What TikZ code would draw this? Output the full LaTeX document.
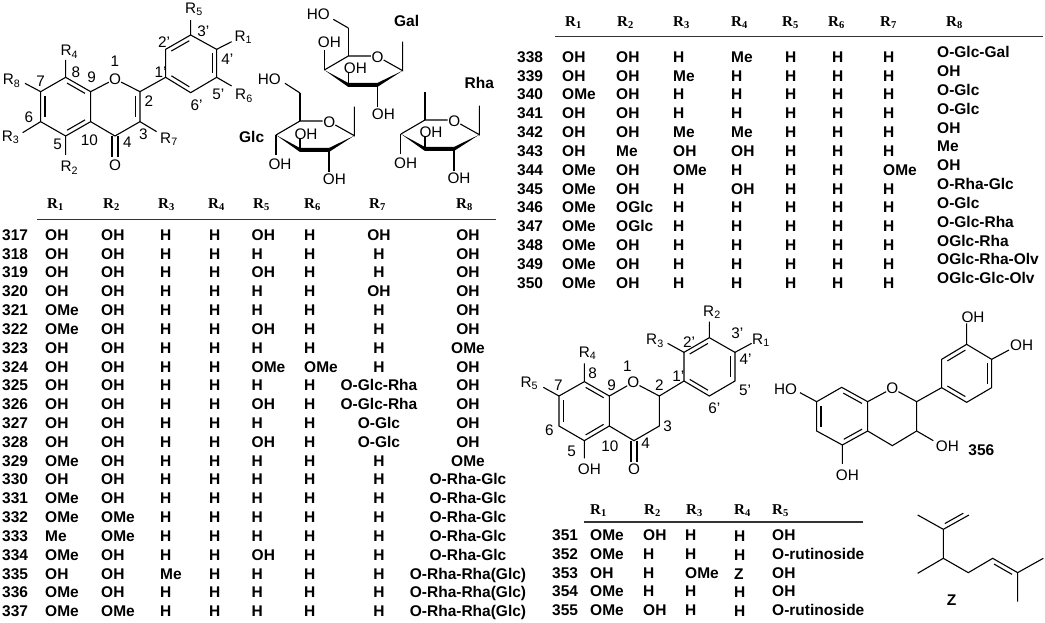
\documentclass[tikz,border=0pt]{standalone}
\usepackage{fontspec}
\setmainfont{Liberation Sans}
\newfontfamily\hdfont{Liberation Serif}
\usetikzlibrary{calc}
\tikzset{
  bond/.style={line width=1.1pt},
  atom/.style={inner sep=0pt,font=\fontsize{15.3}{16}\selectfont},
  tag/.style={inner sep=0pt,font=\fontsize{15.5}{16}\selectfont\bfseries},
  cell/.style={inner sep=0pt,anchor=base west,font=\fontsize{15.5}{16}\selectfont\bfseries},
  cellc/.style={inner sep=0pt,anchor=base,font=\fontsize{15.5}{16}\selectfont\bfseries},
  hd/.style={inner sep=0pt,anchor=base west,font=\fontsize{15}{16}\selectfont\hdfont\bfseries},
  rule/.style={line width=1.1pt,draw=black!80},
  zm/.style 2 args={shift={(#1pt,-#2pt)},x=.3333pt,y=-.3333pt},
}
% inner line of a ring double bond, #3 is the side
\newcommand{\inner}[3]{\draw[bond] ($(#1)!.14!(#2)!4.3pt!#3:(#2)$) -- ($(#2)!.14!(#1)!4.3pt!-#3:(#1)$);}
% two lines either side of the axis
\newcommand{\twin}[2]{\draw[bond] ($(#1)!3pt!90:(#2)$) -- ($(#2)!3pt!-90:(#1)$) ($(#1)!3pt!-90:(#2)$) -- ($(#2)!3pt!90:(#1)$);}
% sugar ring, #1 names the corners
\newcommand{\sugarring}[1]{
  \coordinate (#1c5) at (0,0);
  \coordinate (#1ox) at (88,2);
  \coordinate (#1c1) at (163,44);
  \coordinate (#1c2) at (87,87);
  \coordinate (#1c3) at (0,87);
  \coordinate (#1c4) at (-72,42);
  \coordinate (#1me) at (163,-43);
  \coordinate (#1up) at (0,-84);
  \coordinate (#1a3) at (0,52);
  \coordinate (#1a2) at (87,152);
  \draw[bond] (#1c4) -- (#1c5) -- (68,0);
  \draw[bond] (106,12) -- (#1c1) -- (#1me);
  \draw[bond] (#1c5) -- (#1up);
  \draw[bond] (#1c3) -- (#1a3);
  \draw[bond] (#1c2) -- (#1a2);
  \fill (#1c4) -- (0,81) -- (87,81) -- (#1c1) -- (87,93) -- (0,93) -- cycle;
}
\begin{document}
\begin{tikzpicture}[x=1pt,y=-1pt]
  \useasboundingbox (0,0) rectangle (1045,622);
  % flavone
  \begin{scope}[zm={0}{0}]
    \coordinate (a7) at (122,275);
    \coordinate (a8) at (197,232);
    \coordinate (a9) at (272,275);
    \coordinate (a10) at (272,365);
    \coordinate (a5) at (197,408);
    \coordinate (a6) at (122,365);
    \coordinate (a2) at (420,275);
    \coordinate (a3) at (420,365);
    \coordinate (a4) at (345,408);
    \coordinate (b1) at (497,232);
    \coordinate (b2) at (497,148);
    \coordinate (b3) at (572,105);
    \coordinate (b4) at (650,148);
    \coordinate (b5) at (650,232);
    \coordinate (b6) at (572,278);
    \coordinate (ao) at (345,472);
    \node[atom] (aO) at (345,237) {O};
    \node[atom] (aOd) at (345,497) {O};
    \draw[bond] (a7) -- (a8) -- (a9) -- (a10) -- (a5) -- (a6) -- cycle;
    \draw[bond] (a9) -- (aO) -- (a2) -- (a3) -- (a4) -- (a10);
    \draw[bond] (a2) -- (b1);
    \draw[bond] (b1) -- (b2) -- (b3) -- (b4) -- (b5) -- (b6) -- cycle;
    \inner{a7}{a6}{90}
    \inner{a8}{a9}{-90}
    \inner{a5}{a10}{90}
    \inner{a2}{a3}{-90}
    \inner{b1}{b6}{90}
    \inner{b2}{b3}{-90}
    \inner{b4}{b5}{-90}
    \twin{a4}{ao}
    \draw[bond] (a8) -- (197,180) (b3) -- (572,60) (b4) -- (695,125);
    \draw[bond] (b5) -- (695,258) (a3) -- (470,395) (a5) -- (197,465);
    \draw[bond] (a6) -- (68,398) (a7) -- (75,250);
    \node[atom] (r4) at (208,155) {R\textsubscript{4}};
    \node[atom] (r8) at (35,243) {R\textsubscript{8}};
    \node[atom] (r3) at (32,412) {R\textsubscript{3}};
    \node[atom] (r2) at (208,503) {R\textsubscript{2}};
    \node[atom] (r7) at (507,417) {R\textsubscript{7}};
    \node[atom] (r5) at (582,28) {R\textsubscript{5}};
    \node[atom] (r1) at (730,112) {R\textsubscript{1}};
    \node[atom] (r6) at (732,287) {R\textsubscript{6}};
    \foreach \t/\x/\y in {8/228/217,1/345/185,9/275/232,7/122/243,6/87/352,5/173/432,10/268/422,4/382/428,3/430/403,2/447/303,1'/482/218,2'/492/125,3'/610/95,4'/682/177,5'/655/282,6'/590/315}
      \node[atom] at (\x,\y) {\t};
  \end{scope}
  % sugars
  \begin{scope}[zm={240}{0}]
    \begin{scope}[shift={(325,168)}]
      \sugarring{g}
      \draw[bond] (gup) -- (-45,-110);
      \draw[bond] (-72,42) -- (-72,-18);
    \end{scope}
    \node[atom] (galho) at (235,42) {HO};
    \node[atom] (galo) at (413,171) {O};
    \node[atom] (galoh) at (268,128) {OH};
    \node[atom] (galohb) at (346,205) {OH};
    \node[atom] (galohc) at (430,342) {OH};
    \node[tag] (gal) at (500,62) {Gal};
    \begin{scope}[shift={(180,363)}]
      \sugarring{c}
      \draw[bond] (cup) -- (-45,-113);
      \draw[bond] (-72,42) -- (-72,102);
    \end{scope}
    \node[atom] (glcho) at (88,238) {HO};
    \node[atom] (glco) at (268,366) {O};
    \node[atom] (glcoh) at (120,493) {OH};
    \node[atom] (glcohb) at (198,402) {OH};
    \node[atom] (glcohc) at (283,538) {OH};
    \node[tag] (glc) at (35,410) {Glc};
    \begin{scope}[shift={(555,360)}]
      \sugarring{h}
      \draw[bond] (-73,42) -- (-73,103);
    \end{scope}
    \node[atom] (rhao) at (643,363) {O};
    \node[atom] (rhaoh) at (497,490) {OH};
    \node[atom] (rhaohb) at (573,397) {OH};
    \node[atom] (rhaohc) at (657,535) {OH};
    \node[tag] (rha) at (718,248) {Rha};
  \end{scope}
  % flavanone
  \begin{scope}[zm={490}{320}]
    \coordinate (d7) at (207,228);
    \coordinate (d8) at (283,185);
    \coordinate (d9) at (358,228);
    \coordinate (d10) at (358,318);
    \coordinate (d5) at (283,362);
    \coordinate (d6) at (207,318);
    \coordinate (d2) at (508,228);
    \coordinate (d3) at (508,318);
    \coordinate (d4) at (432,362);
    \coordinate (e1) at (582,183);
    \coordinate (e2) at (582,97);
    \coordinate (e3) at (658,53);
    \coordinate (e4) at (735,97);
    \coordinate (e5) at (735,183);
    \coordinate (e6) at (658,228);
    \coordinate (do) at (432,425);
    \node[atom] (dO) at (430,187) {O};
    \node[atom] (dOd) at (432,447) {O};
    \draw[bond] (d7) -- (d8) -- (d9) -- (d10) -- (d5) -- (d6) -- cycle;
    \draw[bond] (d9) -- (dO) -- (d2) -- (d3) -- (d4) -- (d10);
    \draw[bond] (d2) -- (e1);
    \draw[bond] (e1) -- (e2) -- (e3) -- (e4) -- (e5) -- (e6) -- cycle;
    \inner{d7}{d6}{90}
    \inner{d8}{d9}{-90}
    \inner{d5}{d10}{90}
    \inner{e1}{e6}{90}
    \inner{e2}{e3}{-90}
    \inner{e4}{e5}{-90}
    \twin{d4}{do}
    \draw[bond] (d8) -- (283,130) (d7) -- (160,202) (d5) -- (283,415);
    \draw[bond] (e2) -- (533,70) (e3) -- (658,5) (e4) -- (785,70);
    \node[atom] (s4) at (293,100) {R\textsubscript{4}};
    \node[atom] (s5) at (118,190) {R\textsubscript{5}};
    \node[atom] (s3) at (495,62) {R\textsubscript{3}};
    \node[atom] (s2) at (666,-24) {R\textsubscript{2}};
    \node[atom] (s1) at (813,60) {R\textsubscript{1}};
    \node[atom] (dh) at (298,447) {OH};
    \foreach \t/\x/\y in {1/412/140,2/508/195,3/533/318,4/467/370,5/245/395,6/178/332,7/205/195,8/308/160,9/365/197,10/360/378,1'/565/170,2'/597/65,3'/742/40,4'/767/118,5'/765/210,6'/673/265}
      \node[atom] at (\x,\y) {\t};
  \end{scope}
  % 356 and Z
  \begin{scope}[zm={770}{320}]
    \coordinate (f7) at (140,245);
    \coordinate (f8) at (215,202);
    \coordinate (f9) at (293,245);
    \coordinate (f10) at (293,333);
    \coordinate (f5) at (217,375);
    \coordinate (f6) at (140,333);
    \coordinate (f2) at (440,245);
    \coordinate (f3) at (440,333);
    \coordinate (f4) at (367,377);
    \coordinate (h1) at (515,203);
    \coordinate (h2) at (515,118);
    \coordinate (h3) at (590,73);
    \coordinate (h4) at (665,118);
    \coordinate (h5) at (665,203);
    \coordinate (h6) at (590,247);
    \node[atom] (fO) at (367,205) {O};
    \draw[bond] (f7) -- (f8) -- (f9) -- (f10) -- (f5) -- (f6) -- cycle;
    \draw[bond] (f9) -- (fO) -- (f2) -- (f3) -- (f4) -- (f10);
    \draw[bond] (f2) -- (h1);
    \draw[bond] (h1) -- (h2) -- (h3) -- (h4) -- (h5) -- (h6) -- cycle;
    \inner{f7}{f6}{90}
    \inner{f8}{f9}{-90}
    \inner{f5}{f10}{90}
    \inner{h1}{h6}{90}
    \inner{h2}{h3}{-90}
    \inner{h4}{h5}{-90}
    \draw[bond] (f7) -- (90,218) (f5) -- (217,432) (f3) -- (490,362);
    \draw[bond] (h3) -- (590,10) (h4) -- (717,90);
    \node[atom] (fa) at (47,208) {HO};
    \node[atom] (fb) at (232,465) {OH};
    \node[atom] (fc) at (532,380) {OH};
    \node[atom] (fd) at (609,-9) {OH};
    \node[atom] (fe) at (755,77) {OH};
    \node[tag] (n356) at (634,392) {356};
    \coordinate (z1) at (443,585);
    \coordinate (z2) at (520,628);
    \coordinate (z3) at (597,585);
    \coordinate (z4) at (520,715);
    \coordinate (z5) at (443,760);
    \coordinate (z6) at (595,758);
    \coordinate (z7) at (668,715);
    \coordinate (z8) at (743,758);
    \coordinate (z9) at (820,715);
    \coordinate (z10) at (743,845);
    \draw[bond] (z1) -- (z2) -- (z3) (z2) -- (z4) -- (z5) (z4) -- (z6) -- (z7) -- (z8) -- (z9) (z8) -- (z10);
    \inner{z2}{z3}{90}
    \inner{z7}{z8}{-90}
    \node[tag] (zt) at (545,840) {Z};
  \end{scope}
  % table one
  \foreach \c/\x in {1/47,2/103,3/158,4/208,5/253,6/304,8/456}
    \node[hd] (ha\c) at (\x,208) {R\textsubscript{\c}};
  \node[hd] (ha7) at (369,208) {R\textsubscript{7}};
  \draw[rule] (37,219.5) -- (496,219.5);
  \foreach \id/\ra/\rb/\rc/\rd/\re/\rf/\rg/\rh [count=\i from 0] in {
    317/OH/OH/H/H/OH/H/OH/OH,318/OH/OH/H/H/H/H/H/OH,319/OH/OH/H/H/OH/H/H/OH,
    320/OH/OH/H/H/H/H/OH/OH,321/OMe/OH/H/H/H/H/H/OH,322/OMe/OH/H/H/OH/H/H/OH,
    323/OH/OH/H/H/H/H/H/OMe,324/OH/OH/H/H/OMe/OMe/H/OH,325/OH/OH/H/H/H/H/O-Glc-Rha/OH,
    326/OH/OH/H/H/OH/H/O-Glc-Rha/OH,327/OH/OH/H/H/H/H/O-Glc/OH,328/OH/OH/H/H/OH/H/O-Glc/OH,
    329/OMe/OH/H/H/H/H/H/OMe,330/OH/OH/H/H/H/H/H/O-Rha-Glc,331/OMe/OH/H/H/H/H/H/O-Rha-Glc,
    332/OMe/OMe/H/H/H/H/H/O-Rha-Glc,333/Me/OMe/H/H/H/H/H/O-Rha-Glc,334/OMe/OH/H/H/OH/H/H/O-Rha-Glc,
    335/OH/OH/Me/H/H/H/H/O-Rha-Rha(Glc),336/OMe/OH/H/H/H/H/H/O-Rha-Rha(Glc),337/OMe/OMe/H/H/H/H/H/O-Rha-Rha(Glc)}{
    \node[cell] (t\id) at (2,240.2+18.83*\i) {\id};
    \node[cell] (t\id a) at (45,240.2+18.83*\i) {\ra};
    \node[cell] (t\id b) at (101,240.2+18.83*\i) {\rb};
    \node[cell] (t\id c) at (160,240.2+18.83*\i) {\rc};
    \node[cell] (t\id d) at (209,240.2+18.83*\i) {\rd};
    \node[cell] (t\id e) at (251.5,240.2+18.83*\i) {\re};
    \node[cell] (t\id f) at (304,240.2+18.83*\i) {\rf};
    \node[cellc] (t\id g) at (379,240.2+18.83*\i) {\rg};
    \node[cellc] (t\id h) at (468,240.2+18.83*\i) {\rh};
  }
  % table two
  \foreach \c/\x in {1/565,2/617,3/673,4/731,5/782,6/828,7/880,8/946}
    \node[hd] (hb\c) at (\x,26) {R\textsubscript{\c}};
  \draw[rule] (555,36.7) -- (1043,36.7);
  \foreach \id/\ra/\rb/\rc/\rd/\rg/\rh [count=\i from 0] in {
    338/OH/OH/H/Me/H/O-Glc-Gal,339/OH/OH/Me/H/H/OH,340/OMe/OH/H/H/H/O-Glc,341/OH/OH/H/H/H/O-Glc,
    342/OH/OH/Me/Me/H/OH,343/OH/Me/OH/OH/H/Me,344/OMe/OH/OMe/H/OMe/OH,345/OMe/OH/H/OH/H/O-Rha-Glc,
    346/OMe/OGlc/H/H/H/O-Glc,347/OMe/OGlc/H/H/H/O-Glc-Rha,348/OMe/OH/H/H/H/OGlc-Rha,
    349/OMe/OH/H/H/H/OGlc-Rha-Olv,350/OMe/OH/H/H/H/OGlc-Glc-Olv}{
    \node[cell] (t\id) at (517,62.2+18.83*\i) {\id};
    \node[cell] (t\id a) at (562,62.2+18.83*\i) {\ra};
    \node[cell] (t\id b) at (616,62.2+18.83*\i) {\rb};
    \node[cell] (t\id c) at (673,62.2+18.83*\i) {\rc};
    \node[cell] (t\id d) at (731,62.2+18.83*\i) {\rd};
    \node[cell] (t\id e) at (785,62.2+18.83*\i) {H};
    \node[cell] (t\id f) at (832,62.2+18.83*\i) {H};
    \node[cell] (t\id g) at (883,62.2+18.83*\i) {\rg};
    \node[cell] (t\id h) at (937,57.8+18.83*\i) {\rh};
  }
  % table three
  \foreach \c/\x in {1/590,2/644,3/686,4/734,5/772}
    \node[hd] (hc\c) at (\x,514) {R\textsubscript{\c}};
  \draw[rule] (584,522) -- (863,522);
  \foreach \id/\ra/\rb/\rc/\rd/\re [count=\i from 0] in {
    351/OMe/OH/H/H/OH,352/OMe/H/H/H/O-rutinoside,353/OH/H/OMe/Z/OH,354/OMe/H/H/H/OH,355/OMe/OH/H/H/O-rutinoside}{
    \node[cell] (t\id) at (552,540.2+18.9*\i) {\id};
    \node[cell] (t\id a) at (590,540.2+18.9*\i) {\ra};
    \node[cell] (t\id b) at (643,540.2+18.9*\i) {\rb};
    \node[cell] (t\id c) at (685,540.2+18.9*\i) {\rc};
    \node[cell] (t\id d) at (734,541.2+18.9*\i) {\rd};
    \node[cell] (t\id e) at (772,540.2+18.9*\i) {\re};
  }
\end{tikzpicture}
\end{document}
